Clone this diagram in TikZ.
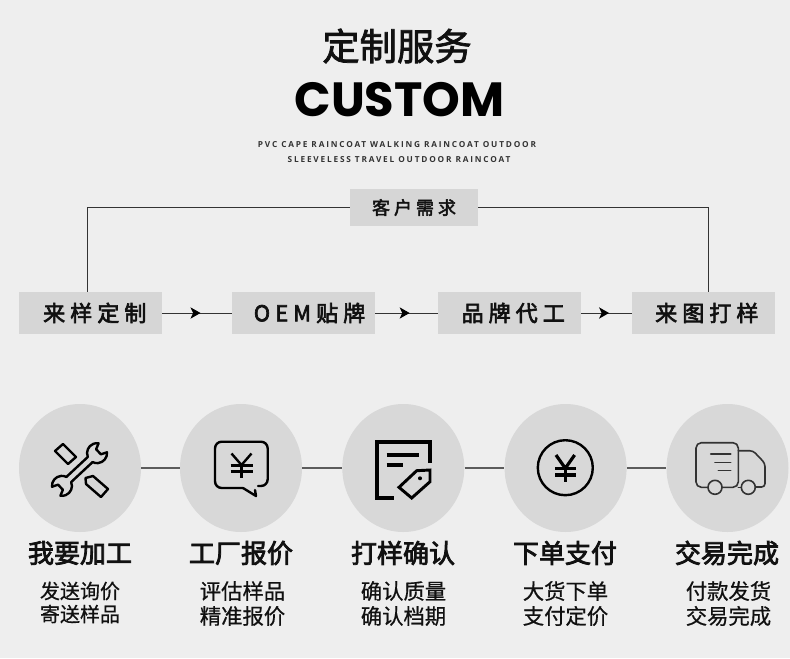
\documentclass[tikz,border=0pt]{standalone}
\usepackage{fontspec}
\usetikzlibrary{shapes.geometric,arrows.meta,decorations.markings}
\setmainfont{Noto Sans CJK SC}
\newfontfamily\titlefont[FakeBold=2]{Noto Sans CJK SC}
\newfontfamily\boxfont[LetterSpace=23,FakeBold=3]{Noto Sans CJK SC}
\newfontfamily\demandfont[LetterSpace=22,FakeBold=2.5]{Noto Sans CJK SC}
\newfontfamily\headfont[FakeBold=3]{Noto Sans CJK SC}
\newfontfamily\subfont[FakeBold=0.6]{Noto Sans CJK SC}
\newfontfamily\customfont{Poppins}
\newfontfamily\smallfont[LetterSpace=22]{Open Sans}
\definecolor{bgc}{HTML}{EEEEEE}
\definecolor{boxc}{HTML}{D6D6D6}
\definecolor{circc}{HTML}{D8D8D8}
\definecolor{inkc}{HTML}{111111}
\definecolor{linec}{HTML}{333333}
\tikzset{
  boxbig/.style={fill=boxc,minimum width=107.25pt,minimum height=31.5pt,inner sep=0pt,text=inkc,font=\boxfont\fontsize{16.5pt}{18pt}\selectfont},
  boxtop/.style={fill=boxc,minimum width=96pt,minimum height=27.75pt,inner sep=0pt,text=inkc,font=\demandfont\fontsize{13.5pt}{16pt}\selectfont},
  disc/.style={ellipse,fill=circc,minimum width=91.5pt,minimum height=96pt,inner sep=0pt},
  head/.style={inner sep=0pt,text=inkc,font=\headfont\fontsize{19.5pt}{22pt}\selectfont},
  sub/.style={inner sep=0pt,text=inkc,font=\subfont\fontsize{16pt}{18pt}\selectfont},
  subsmall/.style={inner sep=0pt,text=inkc,font=\subfont\fontsize{15pt}{18pt}\selectfont},
  wire/.style={draw=linec,line width=0.7pt},
  link/.style={draw=linec!80!white,line width=0.95pt},
  flow/.style={wire,postaction={decorate},decoration={markings,mark=at position #1 with {\arrow[black]{Stealth[length=7.5pt,width=8.5pt,inset=2pt]}}}},
  icon/.style={draw=black,line width=1.8pt,line join=round},
  iconthin/.style={draw=linec,line width=1.2pt,line join=round,line cap=round},
}
\begin{document}
\begin{tikzpicture}[x=0.75pt,y=-0.75pt]
\useasboundingbox (0,0) rectangle (790,658);
\fill[bgc] (0,0) rectangle (790,658);

% titles
\node[inner sep=0pt,text=inkc,font=\titlefont\fontsize{28pt}{30pt}\selectfont] (t1) at (397,46) {定制服务};
\node[inner sep=0pt,text=black,font=\customfont\bfseries\fontsize{36pt}{42pt}\selectfont] (t2) at (399.5,100) {CUSTOM};
\node[inner sep=0pt,text=linec,font=\smallfont\bfseries\fontsize{6.2pt}{8pt}\selectfont] (t3) at (397,144.5) {PVC CAPE RAINCOAT WALKING RAINCOAT OUTDOOR};
\node[inner sep=0pt,text=linec,font=\smallfont\bfseries\fontsize{6.2pt}{8pt}\selectfont] (t4) at (399,159.5) {SLEEVELESS TRAVEL OUTDOOR RAINCOAT};

% flow boxes
\node[boxtop] (need) at (414,207.5) {客户需求};
\node[boxbig] (b1) at (90.5,313) {\hspace*{6.5pt}来样定制};
\node[boxbig] (b2) at (303.5,313) {\hspace*{9pt}OEM贴牌};
\node[boxbig] (b3) at (509.5,313) {\hspace*{5.5pt}品牌代工};
\node[boxbig] (b4) at (703.5,313) {\hspace*{5pt}来图打样};

\coordinate (c1) at (87,292);
\coordinate (c4) at (708,292);
\draw[wire] (need.west) -| (c1);
\draw[wire] (need.east) -| (c4);
\path[flow=0.55] (b1.east) -- (b2.west);
\path[flow=0.55] (b2.east) -- (b3.west);
\path[flow=0.55] (b3.east) -- (b4.west);

% circles
\node[disc] (d1) at (80,468) {};
\node[disc] (d2) at (241,468) {};
\node[disc] (d3) at (403.3,468) {};
\node[disc] (d4) at (565.6,468) {};
\node[disc] (d5) at (727.5,468) {};
\draw[link] (d1.east) -- (d2.west);
\draw[link] (d2.east) -- (d3.west);
\draw[link] (d3.east) -- (d4.west);
\draw[link] (d4.east) -- (d5.west);

% labels
\node[head] (h1) at (80,553) {我要加工};
\node[head] (h2) at (241,553) {工厂报价};
\node[head] (h3) at (403,553) {打样确认};
\node[head] (h4) at (565,553) {下单支付};
\node[head] (h5) at (727,553) {交易完成};
\node[subsmall] (s1a) at (80,591) {发送询价};
\node[subsmall] (s1b) at (80,614) {寄送样品};
\node[sub] (s2a) at (242.5,591) {评估样品};
\node[sub] (s2b) at (242.5,616) {精准报价};
\node[sub] (s3a) at (403.5,591) {确认质量};
\node[sub] (s3b) at (403.5,616) {确认档期};
\node[sub] (s4a) at (565.5,591) {大货下单};
\node[sub] (s4b) at (565.5,616) {支付定价};
\node[sub] (s5a) at (728.5,591) {付款发货};
\node[sub] (s5b) at (728.5,616) {交易完成};

% icon 1: tools
\draw[icon] (55,451) -- (63,444) -- (76,457) -- (68,464) -- cycle;
\draw[icon] (93,476) -- (108,489) -- (101,497) -- (86,484) -- (85.5,478) -- cycle;
\begin{scope}[shift={(79.5,469.5)},rotate=43,x=0.75pt,y=0.75pt]
  \draw[icon] (14.63,3.5) arc[start angle=159.5,end angle=38,radius=10]
    -- (26,3.5) -- (26,-3.5) -- (31.88,-6.16)
    arc[start angle=-38,end angle=-159.5,radius=10]
    -- (-14.63,-3.5)
    arc[start angle=-20.5,end angle=-142,radius=10]
    -- (-26,-3.5) -- (-26,3.5) -- (-31.88,6.16)
    arc[start angle=142,end angle=20.5,radius=10] -- cycle;
\end{scope}

% icon 2: yen bubble
\draw[icon,rounded corners=5pt,line cap=round] (258,486) -- (267.7,486) -- (267.7,441.7) -- (215,441.7) -- (215,488) -- (243,488);
\draw[icon,line cap=round] (243,488) -- (256,496) -- (255,490);
\draw[icon] (231.5,453.5) -- (241.5,465) -- (251.5,453.5);
\draw[icon] (241.5,465) -- (241.5,477.5);
\draw[icon] (230.5,465.5) -- (252.5,465.5);
\draw[icon] (230.5,471.5) -- (252.5,471.5);

% icon 3: document and tag
\draw[draw=black,line width=3pt,line join=miter] (430,463) -- (430,441.7) -- (376.7,441.7) -- (376.7,498.3) -- (394,498.3);
\draw[draw=black,line width=3pt] (386.7,455) -- (419.3,455);
\draw[draw=black,line width=3pt] (386.7,465) -- (403.3,465);
\draw[icon,line width=2.2pt,line join=miter] (399,487.3) -- (416.7,470.7) -- (430,470) -- (430,481.7) -- (411.7,498) -- cycle;
\fill[black] (420,478.3) circle[radius=2];

% icon 4: yen coin
\draw[icon] (565.3,467.7) circle[radius=27.5];
\draw[icon,line width=2.4pt] (556,455) -- (565.3,468.3) -- (574.6,455);
\draw[icon,line width=2.4pt] (565.3,468.3) -- (565.3,481.7);
\draw[icon,line width=2.4pt] (555,468.3) -- (575.6,468.3);
\draw[icon,line width=2.4pt] (555,475) -- (575.6,475);

% icon 5: truck
\draw[iconthin,rounded corners=4pt] (708,487.3) -- (696,487.3) -- (696,442.7) -- (738.3,442.7) -- (738.3,487.3) -- (722,487.3);
\draw[iconthin] (738.3,487.3) -- (741.3,487.3);
\draw[iconthin,rounded corners=2.5pt] (738.3,450.7) -- (753,450.7) -- (765,463.3) -- (765,487) -- (755.3,487);
\draw[iconthin] (715,487.3) circle[radius=7];
\draw[iconthin] (748.3,487.3) circle[radius=7];
\draw[iconthin] (710.7,454) -- (730.7,454);
\draw[iconthin] (715,462.3) -- (730.7,462.3);
\draw[iconthin] (718.3,470.3) -- (730.7,470.3);
\end{tikzpicture}
\end{document}
